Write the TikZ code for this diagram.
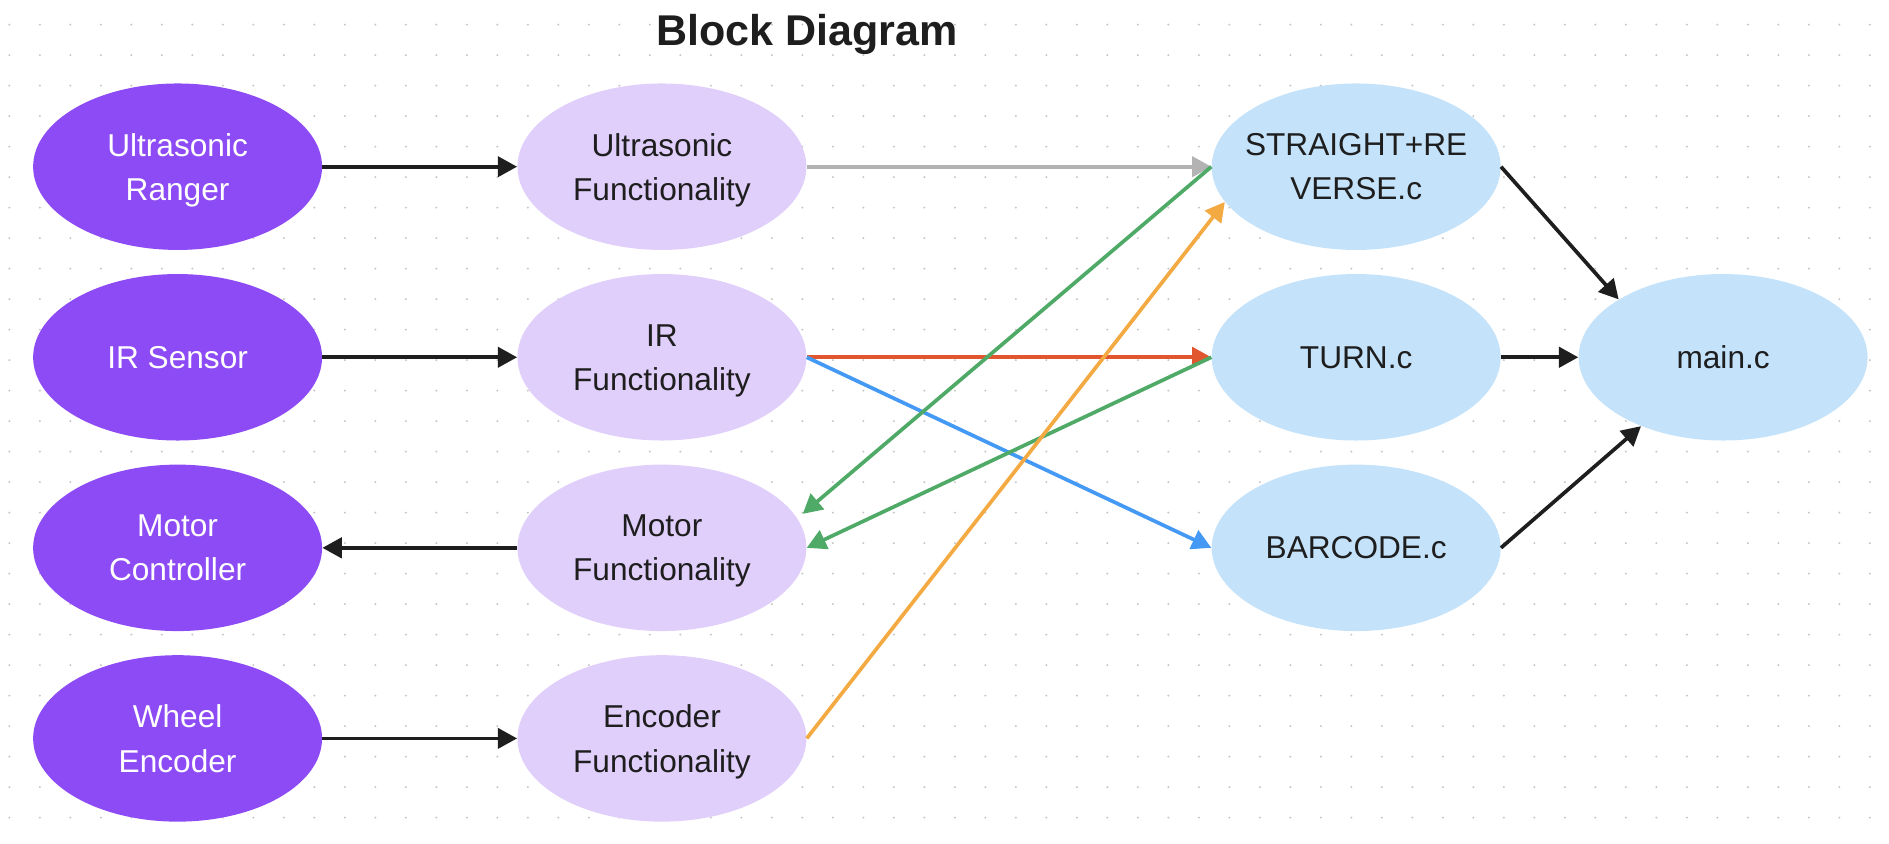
\documentclass[tikz,border=0pt]{standalone}
\usepackage{fontspec}
\setmainfont{Liberation Sans}
\usepackage{tikz}
\usetikzlibrary{shapes.geometric,arrows.meta,positioning,calc}
\definecolor{RoverViolet}{HTML}{8D4BF5}
\definecolor{RoverLilac}{HTML}{E0CEFB}
\definecolor{RoverSky}{HTML}{C4E2FA}
\definecolor{RoverInk}{HTML}{1E1E1E}
\definecolor{RoverGray}{HTML}{B3B3B3}
\definecolor{RoverRed}{HTML}{E2562F}
\definecolor{RoverGreen}{HTML}{4FAA67}
\definecolor{RoverBlue}{HTML}{4499F4}
\definecolor{RoverOrange}{HTML}{F3AA43}
\definecolor{RoverDot}{HTML}{C6C6C6}

\begin{document}
\begin{tikzpicture}[x=0.02cm, y=-0.02cm,
  node distance=0.468cm and 3.894cm,
  every node/.style={font=\fontsize{18}{25.2}\selectfont, text=RoverInk},
  blob/.style={ellipse, draw=none, minimum width=5.78cm, minimum height=3.33cm,
               inner xsep=-1cm, inner ysep=0pt, text depth=0pt, align=center},
  hw/.style ={blob, fill=RoverViolet, text=white},
  fn/.style ={blob, fill=RoverLilac},
  src/.style={blob, fill=RoverSky},
  arrow/.style={-{Triangle[length=11pt,width=11.5pt]}, draw=RoverInk, line width=2.1pt},
]
\useasboundingbox (0,0) rectangle (1889,843);
% dotted canvas
\foreach \i in {0,...,61}
  \foreach \j in {0,...,26}
    \fill[RoverDot] (9.3+30.5*\i, 24.6+30.5*\j) circle (0.022cm);

\node[font=\fontsize{24.5}{29}\selectfont\bfseries, anchor=base] (title) at (807,45.7) {Block Diagram};

% hardware
\node[hw] (ranger) at (177.6,166.7) {Ultrasonic\\Ranger};
\node[hw, below=of ranger]   (irsens)   {IR Sensor};
\node[hw, below=of irsens]   (motorctl) {Motor\\Controller};
\node[hw, below=of motorctl] (wheel)    {Wheel\\Encoder};
% functionality
\node[fn, right=of ranger]   (usfn)    {Ultrasonic\\Functionality};
\node[fn, right=of irsens]   (irfn)    {IR\\Functionality};
\node[fn, right=of motorctl] (motorfn) {Motor\\Functionality};
\node[fn, right=of wheel]    (encfn)   {Encoder\\Functionality};
% source files
\node[src, right=8.094cm of usfn] (straight) {STRAIGHT+RE\\VERSE.c};
\node[src, below=of straight]     (turn)     {TURN.c};
\node[src, below=of turn]         (barcode)  {BARCODE.c};
\node[src, right=1.546cm of turn] (mainc)    {main.c};

\foreach \a/\b in {ranger/usfn, irsens/irfn, wheel/encfn} {\draw[arrow] (\a) -- (\b);}
\draw[arrow] (motorfn) -- (motorctl);
\draw[arrow, draw=RoverGray] (usfn) -- (straight);
\draw[arrow, draw=RoverRed] (irfn) -- (turn);
\draw[arrow, draw=RoverBlue] (irfn.east) -- (barcode.west);
\draw[arrow, draw=RoverGreen] (straight.west) -- ($(motorfn.east)+(-4,-34)$);
\draw[arrow, draw=RoverGreen] (turn.west) -- (motorfn.east);
\draw[arrow, draw=RoverOrange] (encfn.east) -- (straight.195);
\draw[arrow] (straight.east) -- (mainc.151);
\draw[arrow] (turn) -- (mainc);
\draw[arrow] (barcode.east) -- (mainc.220);
\end{tikzpicture}
\end{document}
